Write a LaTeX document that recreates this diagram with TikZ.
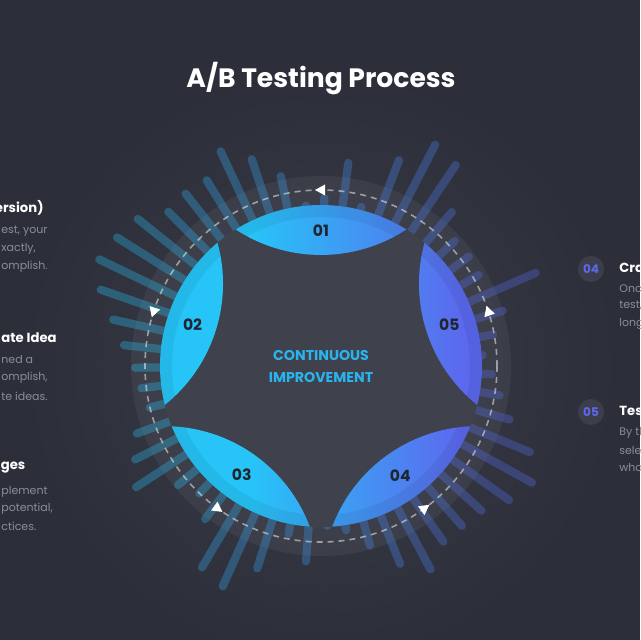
\documentclass[tikz,border=0pt]{standalone}
\usepackage{fontspec}
\setmainfont{Poppins}
\usepackage{xcolor}
\usetikzlibrary{positioning,calc}

\definecolor{bgdark}{HTML}{2C2F3A}
\definecolor{bgglow}{HTML}{3A3D48}
\definecolor{hubfill}{HTML}{3F424D}
\definecolor{petalcyan}{HTML}{27C4F8}
\definecolor{petalindigo}{HTML}{5B69EE}
\definecolor{numdark}{HTML}{1F2631}
\definecolor{bodygray}{HTML}{8A8E98}
\definecolor{badgefill}{HTML}{3C3F4B}
\definecolor{hubtext}{HTML}{2AB4EE}

\begin{document}
\begin{tikzpicture}[x=0.5pt,y=0.5pt,
    ray/.style={line width=4.1pt, line cap=round, opacity=0.32},
    num/.style={font=\fontsize{7.8}{8}\selectfont\bfseries, text=numdark},
    head/.style={font=\fontsize{6.6}{7}\selectfont\bfseries, text=white, inner sep=0pt},
    body/.style={font=\fontsize{5.5}{6}\selectfont, text=bodygray, inner sep=0pt},
    badge/.style={circle, fill=badgefill, minimum size=13pt, inner sep=0pt,
      font=\fontsize{6}{6}\selectfont\bfseries, text=petalindigo}]

    \useasboundingbox (0,0) rectangle (640,640);
    \clip (0,0) rectangle (640,640);
    \fill[bgdark] (0,0) rectangle (640,640);
    \shade[inner color=bgglow, outer color=bgdark] (321,274) circle (300);

    \node[font=\fontsize{13.3}{14}\selectfont\bfseries, text=white] (title) at (321,561) {A/B Testing Process};

    \begin{scope}[shift={(321,274)}]
        % halo ring
        \fill[white, opacity=0.05] (0,0) circle (190);
        % rays
        \foreach \r [count=\i from 0] in {166,179,194,238,186,188,187,206,246,253,224,168,209,172,165,
            198,222,241,222,223,221,239,245,250,237,217,202,190,185,180,200,212,225,190,180,
            196,238,245,216,175,200,161,170,190,217,235,218,217,220,235,245,230,200,185,175} {
            \pgfmathsetmacro{\a}{3.8+6.545*\i}
            \pgfmathsetmacro{\mix}{50-50*cos(\a)}
            \pgfmathsetmacro{\rr}{\r-4}
            \draw[ray, petalcyan!\mix!petalindigo] (\a:160) -- (\a:\rr);
        }
        \fill[hubfill] (0,0) circle (161);
        \draw[white, opacity=0.5, line width=0.8pt, dash pattern=on 3pt off 2.5pt] (0,0) circle (176);
        \foreach \t in {18,90,162,234,306}
            \fill[white, shift={(\t:176)}, rotate=\t+90] (6,0) -- (-4,5.5) -- (-4,-5.5) -- cycle;

        % petals
        \begin{scope}
            \clip \foreach \t in {90,162,234,306,18} {
                ({\t-32}:161) arc[start angle=\t-32, end angle=\t+32, radius=161]
                arc[start angle=\t+146.7, end angle=\t+213.3, radius=155.4] -- cycle };
            \fill[petalcyan] (-170,-170) rectangle (-70,170);
            \shade[left color=petalcyan, right color=petalindigo] (-71,-170) rectangle (140,170);
            \fill[petalindigo] (139,-170) rectangle (170,170);
            \fill[black, opacity=0.06, even odd rule] (0,0) circle (161) circle (149);
        \end{scope}

        \foreach \t/\n in {90/01,162/02,234/03,306/04,18/05}
            \node[num] (p\n) at (\t:135) {\n};

        \node[font=\fontsize{7.1}{11}\selectfont\bfseries, text=hubtext, align=center] (hub) at (0,-1)
            {CONTINUOUS\\IMPROVEMENT};
    \end{scope}

    % left column
    \node[head, anchor=east] (h1) at (44,432) {version)};
    \node[body, anchor=west] (t1a) at (1,409) {est, your};
    \node[body, anchor=west] (t1b) at (1,391) {xactly,};
    \node[body, anchor=west] (t1c) at (1,373) {omplish.};
    \node[head, anchor=west] (h2) at (1,302) {ate Idea};
    \node[body, anchor=west] (t2a) at (1,281) {ned a};
    \node[body, anchor=west] (t2b) at (1,262) {omplish,};
    \node[body, anchor=west] (t2c) at (1,244) {te ideas.};
    \node[head, anchor=west] (h3) at (0.5,172) {ges};
    \node[body, anchor=west] (t3a) at (1,148) {plement};
    \node[body, anchor=west] (t3b) at (1,131) {potential,};
    \node[body, anchor=west] (t3c) at (1,114) {ctices.};

    % right column
    \node[badge] (b4) at (591,371) {04};
    \node[head, anchor=west] (h4) at (619,372) {Cra};
    \node[body, anchor=west] (t4a) at (619,351) {Onc};
    \node[body, anchor=west] (t4b) at (619,334) {test,};
    \node[body, anchor=west] (t4c) at (619,316) {long};
    \node[badge] (b5) at (591,228) {05};
    \node[head, anchor=west] (h5) at (619,229) {Test};
    \node[body, anchor=west] (t5a) at (619,207) {By th};
    \node[body, anchor=west] (t5b) at (619,190) {sele};
    \node[body, anchor=west] (t5c) at (619,173) {who};
\end{tikzpicture}
\end{document}
